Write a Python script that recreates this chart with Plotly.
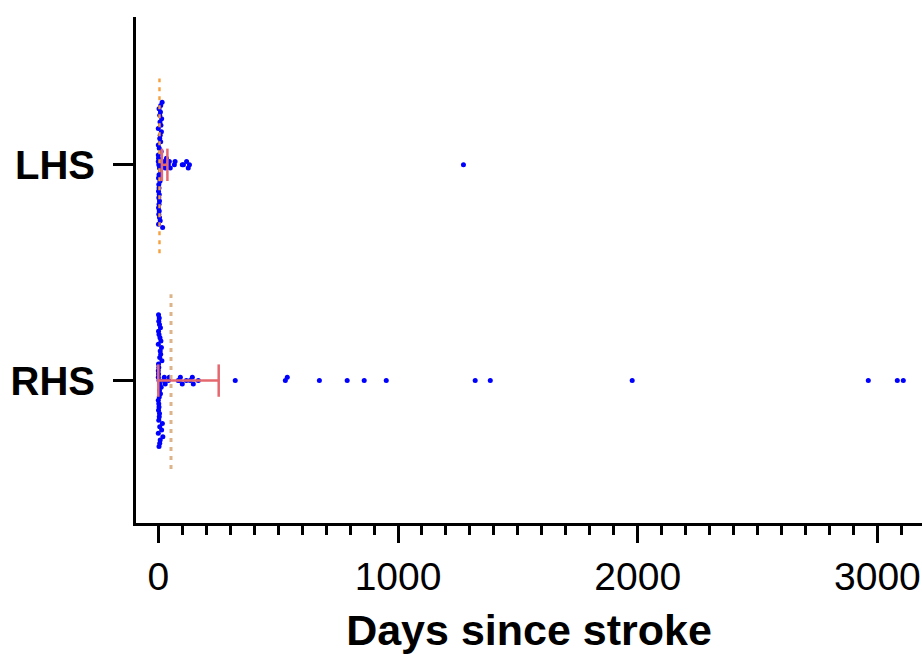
import plotly.graph_objects as go

# ---------------- data (days since stroke), in data-entry order ----------------
groups = ["RHS", "LHS"]

lhs_days = [2, 0, 5, 1, 9, 0, 3, 12, 1, 4, 7, 0, 2, 10, 3, 6, 1, 8, 4, 13,
            2, 0, 5, 11, 3, 7, 1, 14, 4, 6, 2, 9, 5, 3, 8, 10, 1, 16, 18,
            21, 25, 29, 34, 42, 46, 50, 67, 70, 100, 105, 118, 125, 130, 1273]

rhs_days = [3, 0, 7, 1, 12, 0, 5, 2, 9, 1, 4, 15, 0, 6, 2, 10, 3, 8, 1, 13,
            5, 0, 4, 11, 2, 7, 17, 3, 6, 1, 14, 9, 0, 5, 19, 2, 8, 4, 6, 1, 3,
            22, 25, 29, 42, 46, 83, 88, 92, 100, 117, 133, 142, 146, 167,
            321, 530, 538, 672, 788, 859, 951, 1322, 1385, 1977, 2962, 3083, 3108]

# summary marks
center_line = {"LHS": 5, "RHS": 53}          # dotted vertical line
bar_low = {"LHS": 15, "RHS": 0}              # red whisker lower end
bar_high = {"LHS": 38, "RHS": 252}           # red whisker upper end

x_ticks = [0, 1000, 2000, 3000]

# ---------------- layout constants ----------------
W, H = 922, 654
M_L, M_R, M_T, M_B = 136, 0, 17, 130.5
X_RANGE = [-93, 3186]
Y_RANGE = [-0.66, 1.685]
plot_w = W - M_L - M_R
plot_h = H - M_T - M_B
px_per_x = plot_w / (X_RANGE[1] - X_RANGE[0])
px_per_y = plot_h / (Y_RANGE[1] - Y_RANGE[0])

BLUE = "#0000FF"
RED = "#E5686E"
DOT_COL = {"LHS": "#F5A03C", "RHS": "#DDB48A"}
DOT_W = {"LHS": 2.4, "RHS": 3.0}


def binned_swarm(vals, bin_px, step_px):
    """Prism-like column scatter: values falling in the same horizontal bin
    are stacked vertically (in data order), alternating below / above."""
    bins = {}
    for i, v in enumerate(vals):
        bins.setdefault(int(v * px_per_x // bin_px), []).append(i)
    offs = [0.0] * len(vals)
    for idx in bins.values():
        for k, i in enumerate(idx):
            level = (k + 1) // 2
            sign = 1 if k % 2 == 1 else -1
            offs[i] = sign * level * step_px
    return offs


fig = go.Figure()

data = {"LHS": lhs_days, "RHS": rhs_days}
for gi, g in enumerate(groups):
    vals = data[g]
    offs = binned_swarm(vals, 5.0, 3.3)
    fig.add_trace(go.Scatter(
        x=vals, y=[gi + o / px_per_y for o in offs], mode="markers",
        marker=dict(color=BLUE, size=5.0, line=dict(width=0)),
        showlegend=False, hoverinfo="x"))

for gi, g in enumerate(groups):
    # dotted centre line
    fig.add_trace(go.Scatter(
        x=[center_line[g], center_line[g]], y=[gi - 0.41, gi + 0.40], mode="lines",
        line=dict(color=DOT_COL[g], width=DOT_W[g], dash="4px,5px"),
        showlegend=False, hoverinfo="skip"))
    # red whisker with caps
    cap = 0.075
    fig.add_trace(go.Scatter(
        x=[bar_low[g], bar_high[g], None, bar_low[g], bar_low[g], None, bar_high[g], bar_high[g]],
        y=[gi, gi, None, gi - cap, gi + cap, None, gi - cap, gi + cap],
        mode="lines", line=dict(color=RED, width=2.5),
        showlegend=False, hoverinfo="skip"))

fig.update_layout(
    width=W, height=H,
    margin=dict(l=M_L, r=M_R, t=M_T, b=M_B, autoexpand=False),
    paper_bgcolor="white", plot_bgcolor="white",
    font=dict(family="Arial, Liberation Sans, sans-serif", color="black"),
    xaxis=dict(
        range=X_RANGE, tickvals=x_ticks, ticktext=[str(t) for t in x_ticks],
        automargin=False,
        showgrid=False, zeroline=False,
        showline=True, linecolor="black", linewidth=3,
        ticks="outside", ticklen=17, tickwidth=3, tickcolor="black",
        minor=dict(dtick=100, tick0=0, ticks="outside", ticklen=9, tickwidth=3,
                   tickcolor="black", showgrid=False),
        tickfont=dict(size=39, color="black"),
        title=dict(text="Days since stroke", standoff=22,
                   font=dict(size=43, weight="bold", color="black")),
    ),
    yaxis=dict(
        range=Y_RANGE, tickvals=[0, 1], ticktext=groups,
        automargin=False,
        showgrid=False, zeroline=False,
        showline=True, linecolor="black", linewidth=3,
        ticks="outside", ticklen=20, tickwidth=3, tickcolor="black",
        ticklabelstandoff=10,
        tickfont=dict(size=40, weight="bold", color="black"),
    ),
)

# remove the page's default 8px body margin so the figure sits at the corner
fig.write_html("out.html",
               config={"displayModeBar": False},
               post_script="document.body.style.margin='0px';"
                           "document.body.style.overflow='hidden';")
